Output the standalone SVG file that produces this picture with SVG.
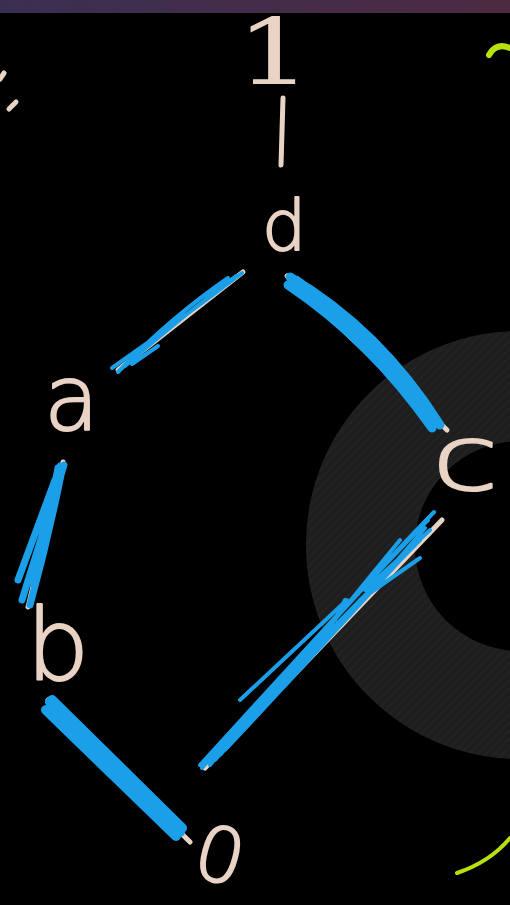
<svg xmlns="http://www.w3.org/2000/svg" width="510" height="905" viewBox="0 0 510 905">
<defs>
<linearGradient id="bar" x1="0" y1="0" x2="1" y2="0">
<stop offset="0" stop-color="#3a2f52"/>
<stop offset="1" stop-color="#4d2a42"/>
</linearGradient>
<pattern id="stripes" width="6" height="6" patternUnits="userSpaceOnUse" patternTransform="rotate(-45)">
<rect width="6" height="6" fill="#1e1e1e"/>
<rect width="6" height="1.5" fill="#242424"/>
</pattern>
</defs>
<style>
.lbl{font-family:"DejaVu Sans","Liberation Sans",sans-serif;font-weight:200;fill:#e9d3c5;stroke:#e9d3c5;stroke-width:2;stroke-linejoin:round}
.serif{font-family:"DejaVu Serif","Liberation Serif",serif;stroke-width:0}
.ink{stroke:#e9d3c5;stroke-width:5;fill:none;stroke-linecap:round}
.hl{stroke:#1a9fe8;fill:none;stroke-linecap:round;stroke-linejoin:round}
.lime{stroke:#b6e20a;fill:none;stroke-linecap:round}
</style>
<rect width="510" height="905" fill="#000"/>
<rect width="510" height="13" fill="url(#bar)"/>
<path d="M520,331 A214,214 0 1,0 520,759 A214,214 0 1,0 520,331 Z M520,441 A105,105 0 1,1 520,651 A105,105 0 1,1 520,441 Z" fill="url(#stripes)" fill-rule="evenodd"/>
<g id="fragments">
<path class="ink" d="M4,73 L0,79" stroke-width="4"/>
<path class="ink" d="M16,102 L9,109" stroke-width="4"/>
<path class="lime" d="M489,55 Q496,42 510,48" stroke-width="6"/>
<path class="lime" d="M457,873 Q490,862 510,838" stroke-width="4"/>
</g>
<g id="connectors">
<path class="ink" d="M283,98 L281,165"/>
<path class="ink" d="M243,272 L118,370" stroke-width="4"/>
<path class="hl" d="M242,273 Q180,320 112,368 M228,278 Q170,318 118,372 M236,276 Q180,318 125,366 M158,346 L132,364" stroke-width="4"/>
<path class="ink" d="M287,276 L447,430" stroke-width="5"/>
<path class="hl" d="M290,277 Q380,330 440,425 M288,285 Q370,340 432,428 M296,280 Q375,335 436,420" stroke-width="9"/>
<path class="ink" d="M63,462 L28,607" stroke-width="5"/>
<path class="hl" d="M64,465 L22,600 M60,466 L34,585 M55,480 L18,580 M62,470 Q48,540 30,605 M58,468 L40,560" stroke-width="7"/>
<path class="ink" d="M48,700 L190,842" stroke-width="6"/>
<path class="hl" d="M50,702 L180,832 M46,710 L176,836 M52,700 L182,828" stroke-width="10"/>
<path class="ink" d="M442,520 L205,768" stroke-width="4"/>
<path class="hl" d="M434,512 Q330,620 202,768 M428,520 Q320,630 210,765 M420,540 Q300,660 205,762 M430,530 L365,590 M347,600 L240,700 M420,558 L360,600 M400,540 L310,650 Q260,710 215,760 M425,528 Q330,640 212,758 M415,545 Q310,650 220,755 M405,555 Q300,670 225,750 M345,600 L335,620 M340,612 L200,765" stroke-width="4"/>
</g>
<g id="node-1"><text class="lbl serif" x="236" y="84" font-size="92" transform="translate(236,84) scale(1.3,1) translate(-236,-84)">1</text></g>
<g id="node-d"><text class="lbl" x="262" y="250" font-size="70">d</text></g>
<g id="node-a"><text class="lbl" x="44" y="430" font-size="90">a</text></g>
<g id="node-b"><text class="lbl" x="26" y="680" font-size="100">b</text></g>
<g id="node-c"><text class="lbl" x="432" y="490" font-size="90" transform="translate(432,490) scale(1.35,1) translate(-432,-490)">c</text></g>
<g id="node-0"><text class="lbl" x="196" y="882" font-size="76" transform="rotate(15,220,855)">0</text></g>
</svg>
